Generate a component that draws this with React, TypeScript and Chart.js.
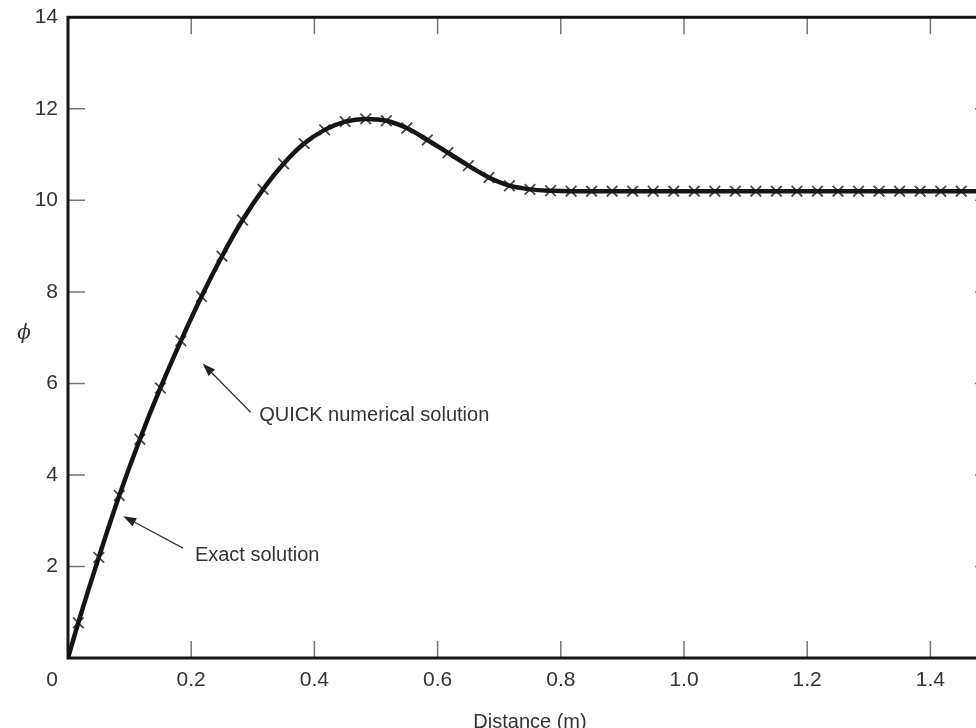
import { useEffect, useRef } from 'react';
import { Chart, registerables } from 'chart.js';

Chart.register(...registerables);

// Cell-centre nodes of the QUICK grid (m)
const nodeX = [
  0.0167, 0.05, 0.0833, 0.1167, 0.15, 0.1833, 0.2167, 0.25, 0.2833, 0.3167,
  0.35, 0.3833, 0.4167, 0.45, 0.4833, 0.5167, 0.55, 0.5833, 0.6167, 0.65,
  0.6833, 0.7167, 0.75, 0.7833, 0.8167, 0.85, 0.8833, 0.9167, 0.95, 0.9833,
  1.0167, 1.05, 1.0833, 1.1167, 1.15, 1.1833, 1.2167, 1.25, 1.2833, 1.3167,
  1.35, 1.3833, 1.4167, 1.45, 1.4833,
];

// QUICK numerical solution (phi at nodes)
const quickY = [
  0.77, 2.2, 3.55, 4.78, 5.9, 6.93, 7.9, 8.78, 9.57, 10.24,
  10.8, 11.24, 11.54, 11.72, 11.78, 11.74, 11.58, 11.32, 11.04, 10.76,
  10.5, 10.32, 10.24, 10.21, 10.2, 10.2, 10.2, 10.2, 10.2, 10.2,
  10.2, 10.2, 10.2, 10.2, 10.2, 10.2, 10.2, 10.2, 10.2, 10.2,
  10.2, 10.2, 10.2, 10.2, 10.2,
];

// Exact solution
const exactX = [0, ...nodeX, 1.5];
const exactY = [
  0, 0.77, 2.2, 3.55, 4.78, 5.9, 6.93, 7.9, 8.78, 9.57, 10.24,
  10.8, 11.24, 11.54, 11.72, 11.78, 11.74, 11.58, 11.32, 11.04, 10.76,
  10.5, 10.32, 10.24, 10.21, 10.2, 10.2, 10.2, 10.2, 10.2, 10.2,
  10.2, 10.2, 10.2, 10.2, 10.2, 10.2, 10.2, 10.2, 10.2, 10.2,
  10.2, 10.2, 10.2, 10.2, 10.2, 10.2,
];

const xTickValues = [0.2, 0.4, 0.6, 0.8, 1.0, 1.2, 1.4];
const yTickValues = [2, 4, 6, 8, 10, 12, 14];

const annotations = [
  { text: 'QUICK numerical solution', tx: 0.3104, ty: 5.3, fromX: 0.2965, fromY: 5.37, toX: 0.2186, toY: 6.436 },
  { text: 'Exact solution', tx: 0.206, ty: 2.25, fromX: 0.1866, fromY: 2.4, toX: 0.0897, toY: 3.1 },
];

const FONT = '"Liberation Sans", Arial, sans-serif';
const TEXT = '#333';
const TICK = 17;

const framePlugin = {
  id: 'frame',
  afterDatasetsDraw(chart: any) {
    const { ctx, chartArea: a, scales } = chart;
    const x = scales.x;
    const y = scales.y;
    ctx.save();
    // inward tick marks
    ctx.strokeStyle = '#777';
    ctx.lineWidth = 1.5;
    ctx.beginPath();
    for (const v of xTickValues) {
      const px = x.getPixelForValue(v);
      ctx.moveTo(px, a.bottom);
      ctx.lineTo(px, a.bottom - TICK);
      ctx.moveTo(px, a.top);
      ctx.lineTo(px, a.top + TICK);
    }
    for (const v of yTickValues) {
      if (v >= y.max) continue;
      const py = y.getPixelForValue(v);
      ctx.moveTo(a.left, py);
      ctx.lineTo(a.left + TICK, py);
      ctx.moveTo(a.right, py);
      ctx.lineTo(a.right - TICK, py);
    }
    ctx.stroke();
    // frame
    ctx.strokeStyle = '#141414';
    ctx.lineWidth = 3;
    ctx.strokeRect(a.left, a.top, a.right - a.left, a.bottom - a.top);

    // corner "0"
    ctx.fillStyle = TEXT;
    ctx.font = `21px ${FONT}`;
    ctx.textAlign = 'right';
    ctx.textBaseline = 'middle';
    ctx.fillText('0', a.left - 10, a.bottom + 22);

    // y axis symbol
    ctx.font = 'italic 20px "DejaVu Serif", serif';
    ctx.textAlign = 'center';
    ctx.fillText('ϕ', 16, (a.top + a.bottom) / 2 - 4);

    // annotations with arrows
    for (const an of annotations) {
      const fx = x.getPixelForValue(an.fromX);
      const fy = y.getPixelForValue(an.fromY);
      const tx = x.getPixelForValue(an.toX);
      const ty = y.getPixelForValue(an.toY);
      const ang = Math.atan2(ty - fy, tx - fx);
      const hl = 13;
      const hw = 4.5;
      const bx = tx - hl * Math.cos(ang);
      const by = ty - hl * Math.sin(ang);
      ctx.strokeStyle = '#333';
      ctx.lineWidth = 1.3;
      ctx.beginPath();
      ctx.moveTo(fx, fy);
      ctx.lineTo(bx, by);
      ctx.stroke();
      ctx.fillStyle = '#222';
      ctx.beginPath();
      ctx.moveTo(tx, ty);
      ctx.lineTo(bx + hw * Math.sin(ang), by - hw * Math.cos(ang));
      ctx.lineTo(bx - hw * Math.sin(ang), by + hw * Math.cos(ang));
      ctx.closePath();
      ctx.fill();

      ctx.fillStyle = TEXT;
      ctx.font = `20px ${FONT}`;
      ctx.textAlign = 'left';
      ctx.textBaseline = 'middle';
      ctx.fillText(an.text, x.getPixelForValue(an.tx), y.getPixelForValue(an.ty));
    }
    ctx.restore();
  },
};

export default function App() {
  const ref = useRef<HTMLCanvasElement | null>(null);

  useEffect(() => {
    if (!ref.current) return;
    const chart = new Chart(ref.current, {
      type: 'scatter',
      data: {
        datasets: [
          {
            label: 'Exact solution',
            data: exactX.map((v, i) => ({ x: v, y: exactY[i] })),
            showLine: true,
            borderColor: '#151515',
            borderWidth: 4.5,
            pointRadius: 0,
            cubicInterpolationMode: 'monotone',
            fill: false,
          },
          {
            label: 'QUICK numerical solution',
            data: nodeX.map((v, i) => ({ x: v, y: quickY[i] })),
            showLine: false,
            pointStyle: 'crossRot',
            pointRadius: 7.5,
            pointBorderWidth: 1.8,
            pointBorderColor: '#4a4a4a',
            pointBackgroundColor: '#4a4a4a',
          },
        ],
      },
      options: {
        responsive: false,
        maintainAspectRatio: false,
        animation: false,
        layout: { padding: { left: 0, top: 7, right: 16, bottom: 0 } },
        plugins: { legend: { display: false }, tooltip: { enabled: false } },
        scales: {
          x: {
            type: 'linear',
            min: 0,
            max: 1.5,
            grid: { display: false, drawTicks: false, tickLength: 0 },
            border: { display: false },
            afterBuildTicks: (s: any) => {
              s.ticks = xTickValues.map((v) => ({ value: v }));
            },
            afterFit: (s: any) => {
              s.height = 70;
              s.paddingLeft = 0;
              s.paddingRight = 0;
            },
            ticks: {
              autoSkip: false,
              maxRotation: 0,
              padding: 10,
              color: TEXT,
              font: { family: FONT, size: 21 },
              callback: (v: any) => Number(v).toFixed(1),
            },
            title: {
              display: true,
              text: 'Distance (m)',
              color: TEXT,
              font: { family: FONT, size: 20 },
              padding: { top: 0, bottom: -6 },
            },
          },
          y: {
            type: 'linear',
            min: 0,
            max: 14,
            grid: { display: false, drawTicks: false, tickLength: 0 },
            border: { display: false },
            afterBuildTicks: (s: any) => {
              s.ticks = yTickValues.map((v) => ({ value: v }));
            },
            afterFit: (s: any) => {
              s.width = 60;
              s.paddingTop = 0;
              s.paddingBottom = 0;
            },
            ticks: {
              padding: 10,
              color: TEXT,
              font: { family: FONT, size: 21 },
              callback: (v: any) => String(v),
            },
          },
        },
      },
      plugins: [framePlugin],
    });
    return () => chart.destroy();
  }, []);

  return (
    <div
      style={{
        position: 'fixed',
        left: 0,
        top: 0,
        width: 976,
        height: 728,
        overflow: 'hidden',
      }}
    >
      <canvas
        ref={ref}
        width={1000}
        height={720}
        style={{ display: 'block', position: 'absolute', left: 8, top: 8 }}
      />
    </div>
  );
}
